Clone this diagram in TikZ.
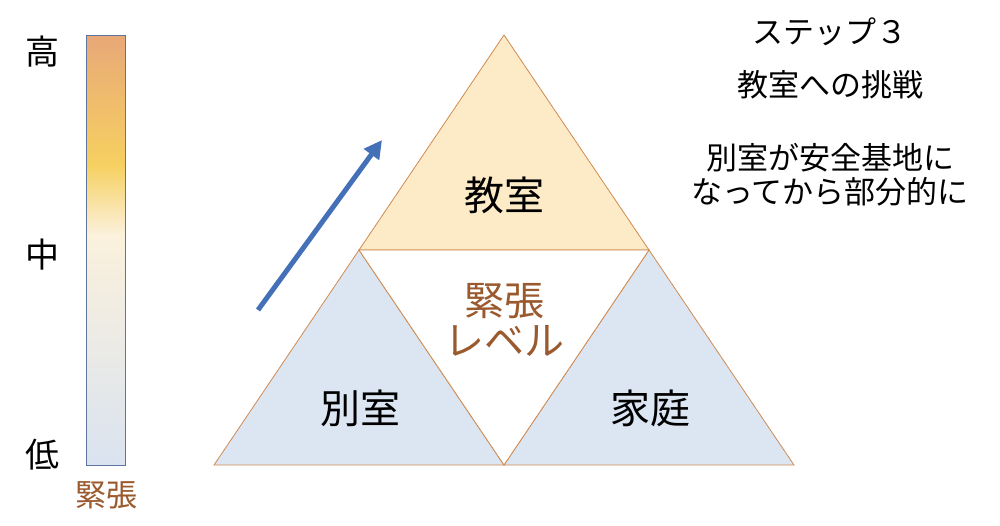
\documentclass[tikz,border=0pt]{standalone}
\usepackage{fontspec}
\setmainfont{Noto Sans CJK JP}
\usepackage{tikz}
\usetikzlibrary{arrows.meta}
\definecolor{edgec}{HTML}{D08A50}
\definecolor{topfill}{HTML}{FCEBC6}
\definecolor{lowfill}{HTML}{DCE6F2}
\definecolor{tensec}{HTML}{9A5A2E}
\definecolor{arrowc}{HTML}{4470B8}
\definecolor{barhi}{HTML}{E8A878}
\definecolor{baryel}{HTML}{F6D060}
\definecolor{barcream}{HTML}{FBF1DC}
\definecolor{barlo}{HTML}{DAE3F0}
\tikzset{
  part/.style={draw=edgec, line width=0.8pt},
  word/.style={font=\fontsize{40}{44}\selectfont},
  note/.style={font=\fontsize{31}{36}\selectfont},
  scalelbl/.style={font=\fontsize{34}{38}\selectfont},
}
\begin{document}
\begin{tikzpicture}[x=1pt,y=-1pt]
            \useasboundingbox (0,0) rectangle (1000,525);
            % Scale bar
            \shade[top color=barhi, bottom color=baryel] (86,35) rectangle (125,165);
            \shade[top color=baryel, bottom color=barcream] (86,165) rectangle (125,235);
            \shade[top color=barcream, bottom color=barlo] (86,235) rectangle (125,465);
            \draw[draw=arrowc!60!gray, line width=0.6pt] (86,35) rectangle (125,465);
            \node[scalelbl] (hi) at (42,52) {高};
            \node[scalelbl] (mid) at (42,255) {中};
            \node[scalelbl] (lo) at (42,455) {低};
            \node[note, text=tensec] (barlbl) at (106,495) {緊張};

            % Triangle corners
            \coordinate (apex) at (504,35);
            \coordinate (bl) at (214,465);
            \coordinate (br) at (794,465);
            \coordinate (ml) at (359,250);
            \coordinate (mr) at (649,250);
            \coordinate (mb) at (504,465);
            \filldraw[part, fill=topfill] (apex) -- (mr) -- (ml) -- cycle;
            \filldraw[part, fill=lowfill] (ml) -- (mb) -- (bl) -- cycle;
            \filldraw[part, fill=lowfill] (mr) -- (br) -- (mb) -- cycle;
            \draw[part, fill=white] (ml) -- (mr) -- (mb) -- cycle;

            % Labels
            \node[word] (room) at (504,195) {教室};
            \node[word] (sep) at (360,408) {別室};
            \node[word] (home) at (650,408) {家庭};
            \node[word, text=tensec, align=center] (level) at (504,320) {緊張\\[-4pt]レベル};

            % Arrow
            \coordinate (as) at (258,310);
            \coordinate (ae) at (382,140);
            \draw[arrowc, line width=5pt, -{Triangle[length=18pt,width=18pt]}] (as) -- (ae);

            % Notes
            \node[note] (step) at (830,32) {ステップ３};
            \node[note] (goal) at (830,85) {教室への挑戦};
            \node[note, align=center] (desc) at (830,175) {別室が安全基地に\\[-2pt]なってから部分的に};
        \end{tikzpicture}
\end{document}
